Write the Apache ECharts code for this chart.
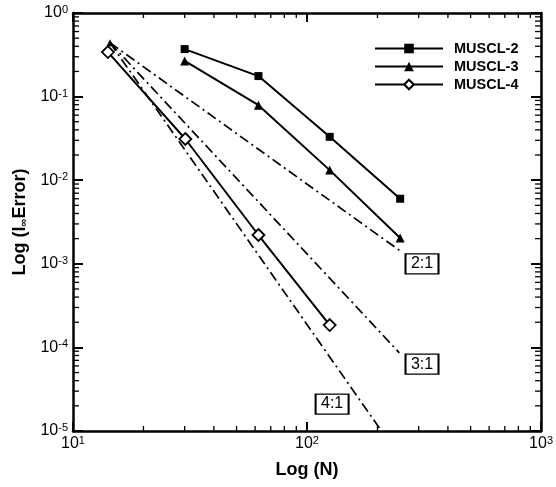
<!DOCTYPE html>
<html><head><meta charset="utf-8">
<script src="https://cdn.jsdelivr.net/npm/echarts@6/dist/echarts.min.js"></script>
<style>html,body{margin:0;padding:0;background:#fff}#c{width:556px;height:487px}</style>
</head><body><div id="c"></div>
<script>
const seriesNames = ['MUSCL-2', 'MUSCL-3', 'MUSCL-4'];
const nMuscl2 = [30, 62, 125, 250];
const errMuscl2 = [0.37, 0.176, 0.033, 0.006];
const nMuscl3 = [30, 62, 125, 250];
const errMuscl3 = [0.267, 0.079, 0.0132, 0.00203];
const nMuscl4 = [14.1, 30.2, 62, 125];
const errMuscl4 = [0.341, 0.0311, 0.00221, 0.000185];
const refOrigin = [14.4, 0.44];
const ref21End = [248, 0.00145];
const ref31End = [248, 0.000086];
const ref41End = [208, 0.00001];
const refLabels = ['2:1', '3:1', '4:1'];
const refLabelPos = [[310, 0.001], [310, 0.000063], [128, 0.000021]];
const xMinorTicks = [20, 30, 40, 50, 60, 70, 80, 90, 200, 300, 400, 500, 600, 700, 800, 900];
const yMinorTicks = [
  2e-5, 3e-5, 4e-5, 5e-5, 6e-5, 7e-5, 8e-5, 9e-5,
  2e-4, 3e-4, 4e-4, 5e-4, 6e-4, 7e-4, 8e-4, 9e-4,
  2e-3, 3e-3, 4e-3, 5e-3, 6e-3, 7e-3, 8e-3, 9e-3,
  2e-2, 3e-2, 4e-2, 5e-2, 6e-2, 7e-2, 8e-2, 9e-2,
  0.2, 0.3, 0.4, 0.5, 0.6, 0.7, 0.8, 0.9
];
const xMin = 10, xMax = 1000, yMin = 1e-5, yMax = 1;

const FONT = '"Liberation Sans", Arial, Helvetica, sans-serif';
const zip = (a, b) => a.map((v, i) => [v, b[i]]);
const powLabel = v => '{b|10}{e|' + Math.round(Math.log10(v)) + '}';
const powRich = {
  b: { fontSize: 16, fontFamily: FONT, color: '#000', lineHeight: 17 },
  e: { fontSize: 11, fontFamily: FONT, color: '#000', lineHeight: 11, padding: [0, 0, 10, 0], verticalAlign: 'top' }
};
const black = '#000';
const axisLineStyle = { color: black, width: 2.5 };
const dashDot = [10, 4, 2, 4];

const chart = echarts.init(document.getElementById('c'), null, { renderer: 'canvas' });
chart.setOption({
  backgroundColor: '#fff',
  animation: false,
  grid: { left: 73, right: 13, top: 13, bottom: 56, containLabel: false },
  legend: {
    orient: 'vertical', left: 369, top: 36,
    itemWidth: 68, itemHeight: 12, itemGap: 3,
    data: seriesNames,
    textStyle: { fontWeight: 'bold', fontSize: 14.5, fontFamily: FONT, color: black, padding: [0, 0, 0, 6] }
  },
  xAxis: [{
    type: 'log', logBase: 10, min: xMin, max: xMax, position: 'bottom',
    axisLine: { onZero: false, lineStyle: axisLineStyle },
    axisTick: { inside: true, length: 9, lineStyle: { color: black, width: 2 } },
    axisLabel: { formatter: powLabel, rich: powRich, margin: 4 },
    splitLine: { show: false },
    name: 'Log (N)', nameLocation: 'middle', nameGap: 27,
    nameTextStyle: { fontSize: 18, fontWeight: 'bold', fontFamily: FONT, color: black }
  }, {
    type: 'log', logBase: 10, min: xMin, max: xMax, position: 'top',
    axisLine: { onZero: false, lineStyle: axisLineStyle },
    axisTick: { inside: true, length: 9, lineStyle: { color: black, width: 2 } },
    axisLabel: { show: false }, splitLine: { show: false }
  }],
  yAxis: [{
    type: 'log', logBase: 10, min: yMin, max: yMax, position: 'left',
    axisLine: { onZero: false, lineStyle: axisLineStyle },
    axisTick: { inside: true, length: 10, lineStyle: { color: black, width: 2 } },
    axisLabel: { formatter: powLabel, rich: powRich, margin: 5 },
    splitLine: { show: false },
    name: 'Log (l{s|∞}Error)', nameLocation: 'middle', nameGap: 40, nameRotate: 90,
    nameTextStyle: {
      fontSize: 18, fontWeight: 'bold', fontFamily: FONT, color: black,
      rich: { s: { fontSize: 11, fontWeight: 'bold', fontFamily: FONT, color: black, padding: [8, 0, 0, 0] } }
    }
  }, {
    type: 'log', logBase: 10, min: yMin, max: yMax, position: 'right',
    axisLine: { onZero: false, lineStyle: axisLineStyle },
    axisTick: { inside: true, length: 10, lineStyle: { color: black, width: 2 } },
    axisLabel: { show: false }, splitLine: { show: false }
  }],
  series: [
    {
      name: 'MUSCL-2', type: 'line', data: zip(nMuscl2, errMuscl2),
      symbol: 'rect', symbolSize: 8,
      lineStyle: { color: black, width: 2 }, itemStyle: { color: black }, z: 5
    },
    {
      name: 'MUSCL-3', type: 'line', data: zip(nMuscl3, errMuscl3),
      symbol: 'triangle', symbolSize: 9,
      lineStyle: { color: black, width: 2 }, itemStyle: { color: black }, z: 5
    },
    {
      name: 'MUSCL-4', type: 'line', data: zip(nMuscl4, errMuscl4),
      symbol: 'diamond', symbolSize: 12,
      lineStyle: { color: black, width: 2 },
      itemStyle: { color: '#fff', borderColor: black, borderWidth: 1.8 }, z: 6
    },
    {
      name: 'ref21', type: 'line', data: [refOrigin, ref21End], symbol: 'none',
      lineStyle: { color: black, width: 1.7, type: dashDot }, z: 3
    },
    {
      name: 'ref31', type: 'line', data: [refOrigin, ref31End], symbol: 'none',
      lineStyle: { color: black, width: 1.7, type: dashDot }, z: 3
    },
    {
      name: 'ref41', type: 'line',
      data: [{ value: refOrigin, symbol: 'triangle', symbolSize: 7 }, { value: ref41End, symbol: 'none' }],
      symbol: 'none', showSymbol: true,
      itemStyle: { color: black },
      lineStyle: { color: black, width: 1.7, type: dashDot }, z: 3
    },
    {
      name: 'refLabels', type: 'scatter',
      data: refLabelPos.map((p, i) => [p[0], p[1], refLabels[i]]),
      symbol: 'rect', symbolSize: [33, 20],
      itemStyle: { color: '#ffffff', borderColor: '#000000', borderWidth: 1.6, opacity: 1 },
      label: {
        show: true, position: 'inside',
        formatter: p => p.value[2],
        fontSize: 16, fontFamily: FONT, color: '#000000',
        textBorderWidth: 0, opacity: 1
      },
      emphasis: { disabled: true }, z: 7
    },
    {
      name: 'xMinor', type: 'custom', silent: true,
      data: xMinorTicks.map(v => [v, yMax]),
      renderItem: (params, api) => {
        const xv = api.value(0);
        const b = api.coord([xv, yMin]);
        const t = api.coord([xv, yMax]);
        const st = { stroke: black, lineWidth: 1.3 };
        return { type: 'group', children: [
          { type: 'line', shape: { x1: b[0], y1: b[1], x2: b[0], y2: b[1] - 5 }, style: st },
          { type: 'line', shape: { x1: t[0], y1: t[1], x2: t[0], y2: t[1] + 5 }, style: st }
        ] };
      }
    },
    {
      name: 'yMinor', type: 'custom', silent: true,
      data: yMinorTicks.map(v => [xMin, v]),
      renderItem: (params, api) => {
        const yv = api.value(1);
        const l = api.coord([xMin, yv]);
        const r = api.coord([xMax, yv]);
        const st = { stroke: black, lineWidth: 1.3 };
        return { type: 'group', children: [
          { type: 'line', shape: { x1: l[0], y1: l[1], x2: l[0] + 6, y2: l[1] }, style: st },
          { type: 'line', shape: { x1: r[0], y1: r[1], x2: r[0] - 6, y2: r[1] }, style: st }
        ] };
      }
    }
  ]
});
</script></body></html>
